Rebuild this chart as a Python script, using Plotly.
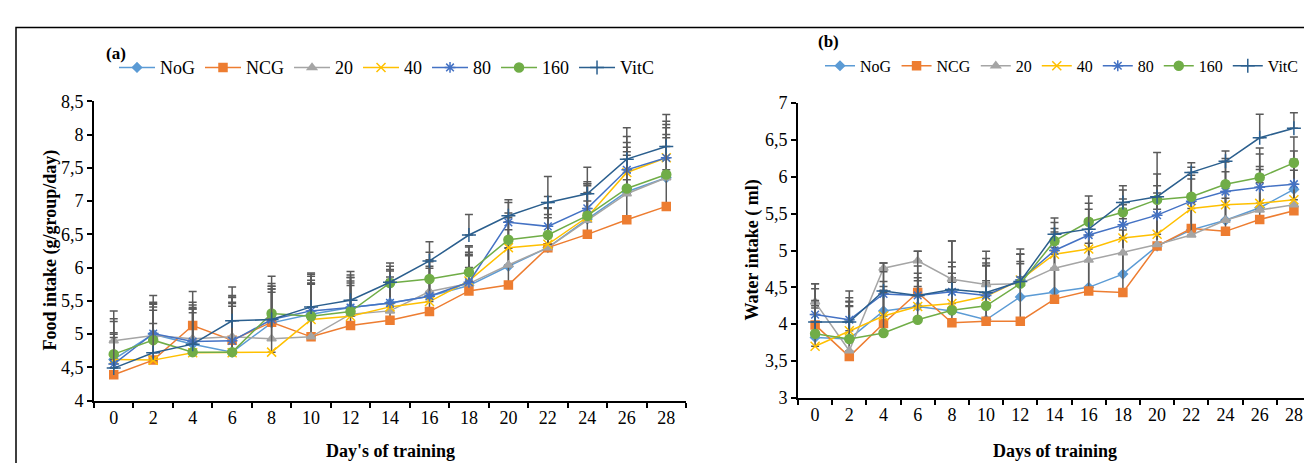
import plotly.graph_objects as go

days = ["0", "2", "4", "6", "8", "10", "12", "14", "16", "18", "20", "22", "24", "26", "28"]
series_names = ["NoG", "NCG", "20", "40", "80", "160", "VitC"]

# Panel (a): Food intake (g/group/day)
food_NoG = [4.62, 5.00, 4.85, 4.73, 5.17, 5.30, 5.40, 5.47, 5.57, 5.73, 6.02, 6.30, 6.73, 7.14, 7.35]
food_NCG = [4.39, 4.61, 5.13, 4.91, 5.18, 4.96, 5.13, 5.21, 5.34, 5.65, 5.74, 6.30, 6.50, 6.72, 6.92]
food_20 = [4.90, 4.98, 4.93, 4.96, 4.93, 4.96, 5.30, 5.35, 5.64, 5.76, 6.04, 6.30, 6.71, 7.11, 7.35]
food_40 = [4.62, 4.61, 4.72, 4.72, 4.73, 5.22, 5.27, 5.41, 5.49, 5.80, 6.30, 6.35, 6.76, 7.43, 7.65]
food_80 = [4.55, 5.01, 4.89, 4.90, 5.22, 5.35, 5.40, 5.47, 5.57, 5.78, 6.68, 6.62, 6.89, 7.47, 7.65]
food_160 = [4.70, 4.91, 4.73, 4.73, 5.31, 5.27, 5.34, 5.77, 5.83, 5.93, 6.42, 6.49, 6.78, 7.19, 7.40]
food_VitC = [4.49, 4.72, 4.85, 5.20, 5.22, 5.41, 5.51, 5.78, 6.10, 6.49, 6.78, 6.98, 7.11, 7.63, 7.82]

food_err_NoG = [0.57, 0.45, 0.55, 0.75, 0.55, 0.45, 0.40, 0.35, 0.45, 0.45, 0.55, 0.50, 0.40, 0.55, 0.60]
food_err_NCG = [0.50, 0.55, 0.35, 0.55, 0.45, 0.80, 0.60, 0.55, 0.50, 0.35, 0.55, 0.45, 0.50, 0.60, 0.55]
food_err_20 = [0.33, 0.50, 0.45, 0.60, 0.75, 0.85, 0.55, 0.60, 0.45, 0.55, 0.65, 0.60, 0.55, 0.70, 0.75]
food_err_40 = [0.40, 0.75, 0.60, 0.70, 0.95, 0.55, 0.50, 0.45, 0.50, 0.40, 0.45, 0.55, 0.50, 0.45, 0.50]
food_err_80 = [0.45, 0.40, 0.55, 0.65, 0.50, 0.55, 0.45, 0.50, 0.55, 0.45, 0.30, 0.45, 0.40, 0.50, 0.55]
food_err_160 = [0.25, 0.55, 0.65, 0.85, 0.45, 0.60, 0.55, 0.25, 0.40, 0.40, 0.40, 0.40, 0.45, 0.55, 0.60]
food_err_VitC = [0.86, 0.86, 0.79, 0.51, 0.65, 0.51, 0.43, 0.29, 0.29, 0.31, 0.24, 0.39, 0.40, 0.47, 0.48]

# Panel (b): Water intake (ml)
water_NoG = [3.82, 3.80, 4.18, 4.24, 4.18, 4.06, 4.37, 4.44, 4.50, 4.68, 5.06, 5.28, 5.41, 5.58, 5.83]
water_NCG = [3.99, 3.56, 4.01, 4.43, 4.02, 4.04, 4.04, 4.34, 4.45, 4.43, 5.06, 5.30, 5.26, 5.42, 5.54]
water_20 = [4.30, 3.64, 4.76, 4.86, 4.61, 4.54, 4.55, 4.76, 4.87, 4.97, 5.08, 5.21, 5.41, 5.55, 5.62]
water_40 = [3.70, 3.91, 4.11, 4.24, 4.28, 4.38, 4.60, 4.95, 5.02, 5.17, 5.22, 5.57, 5.62, 5.64, 5.69]
water_80 = [4.13, 4.06, 4.41, 4.39, 4.44, 4.39, 4.60, 5.00, 5.21, 5.35, 5.48, 5.67, 5.80, 5.86, 5.90]
water_160 = [3.87, 3.80, 3.88, 4.06, 4.19, 4.25, 4.55, 5.13, 5.39, 5.52, 5.69, 5.73, 5.90, 5.99, 6.19]
water_VitC = [4.03, 4.03, 4.45, 4.39, 4.47, 4.43, 4.58, 5.22, 5.29, 5.65, 5.73, 6.06, 6.21, 6.53, 6.66]

water_err_NoG = [0.40, 0.45, 0.40, 0.35, 0.45, 0.50, 0.45, 0.60, 0.70, 0.75, 0.60, 0.45, 0.50, 0.45, 0.40]
water_err_NCG = [0.30, 0.50, 0.45, 0.20, 0.55, 0.55, 0.60, 0.75, 0.65, 0.85, 0.50, 0.35, 0.45, 0.50, 0.55]
water_err_20 = [0.25, 0.60, 0.07, 0.13, 0.52, 0.25, 0.30, 0.40, 0.55, 0.60, 0.70, 0.55, 0.50, 0.55, 0.60]
water_err_40 = [0.55, 0.40, 0.40, 0.45, 0.50, 0.45, 0.35, 0.30, 0.40, 0.45, 0.45, 0.40, 0.45, 0.50, 0.55]
water_err_80 = [0.35, 0.30, 0.30, 0.40, 0.40, 0.50, 0.35, 0.30, 0.35, 0.35, 0.40, 0.35, 0.40, 0.45, 0.45]
water_err_160 = [0.45, 0.50, 0.55, 0.45, 0.50, 0.55, 0.40, 0.25, 0.25, 0.30, 0.35, 0.40, 0.35, 0.40, 0.35]
water_err_VitC = [0.52, 0.42, 0.38, 0.60, 0.66, 0.56, 0.44, 0.22, 0.45, 0.23, 0.60, 0.13, 0.14, 0.32, 0.21]

food_ticks = [4, 4.5, 5, 5.5, 6, 6.5, 7, 7.5, 8, 8.5]
food_ticklabels = ["4", "4,5", "5", "5,5", "6", "6,5", "7", "7,5", "8", "8,5"]
water_ticks = [3, 3.5, 4, 4.5, 5, 5.5, 6, 6.5, 7]
water_ticklabels = ["3", "3,5", "4", "4,5", "5", "5,5", "6", "6,5", "7"]

colors = ["#5B9BD5", "#ED7D31", "#A5A5A5", "#FFC000", "#4472C4", "#70AD47", "#2B5F8E"]
symbols = ["diamond", "square", "triangle-up", "x-thin-open", "asterisk-open", "circle", "cross-thin-open"]
sizes = [7, 8, 8, 9, 9, 9, 10]

food_vals = [food_NoG, food_NCG, food_20, food_40, food_80, food_160, food_VitC]
food_errs = [food_err_NoG, food_err_NCG, food_err_20, food_err_40, food_err_80, food_err_160, food_err_VitC]
water_vals = [water_NoG, water_NCG, water_20, water_40, water_80, water_160, water_VitC]
water_errs = [water_err_NoG, water_err_NCG, water_err_20, water_err_40, water_err_80, water_err_160, water_err_VitC]

W, H = 1312, 463
FONT = "Liberation Serif"

fig = go.Figure()

def add_panel(vals, errs, xaxis, yaxis, legend):
    for name, v, e, c, s, sz in zip(series_names, vals, errs, colors, symbols, sizes):
        fig.add_trace(go.Scatter(
            x=days, y=v, name=name, mode="lines+markers",
            xaxis=xaxis, yaxis=yaxis, legend=legend,
            line=dict(color=c, width=1.5),
            marker=dict(symbol=s, size=sz, color=c, line=dict(color=c, width=1.5)),
            error_y=dict(type="data", array=e, symmetric=False, arrayminus=[0] * len(e),
                         color="#5A5A5A", thickness=1.5, width=4),
        ))

add_panel(food_vals, food_errs, "x", "y", "legend")
add_panel(water_vals, water_errs, "x2", "y2", "legend2")

def px_x(p):
    return p / W

def px_y(p):
    return 1 - p / H

axis_common = dict(showline=True, linecolor="black", linewidth=2, ticks="outside",
                   tickcolor="black", tickwidth=2, ticklen=5, showgrid=False, zeroline=False,
                   tickfont=dict(family=FONT, size=18, color="black"))

fig.update_layout(
    width=W, height=H,
    margin=dict(l=0, r=0, t=0, b=0),
    paper_bgcolor="white", plot_bgcolor="white",
    font=dict(family=FONT, size=18, color="black"),
    showlegend=True,
    xaxis=dict(domain=[px_x(86), px_x(678)], type="category", tickson="boundaries",
               range=[-0.5, 14.5], anchor="y", **axis_common),
    yaxis=dict(domain=[px_y(400), px_y(87)], range=[4, 8.5], tickvals=food_ticks,
               ticktext=food_ticklabels, anchor="x", **axis_common),
    xaxis2=dict(domain=[px_x(790), px_x(1303)], type="category", tickson="boundaries",
                range=[-0.5, 14.5], anchor="y2", **axis_common),
    yaxis2=dict(domain=[px_y(397), px_y(89)], range=[3, 7], tickvals=water_ticks,
                ticktext=water_ticklabels, anchor="x2", **axis_common),
    legend=dict(orientation="h", x=px_x(106), y=px_y(52), xanchor="left", yanchor="middle",
                font=dict(family=FONT, size=18), itemwidth=36, bgcolor="rgba(0,0,0,0)",
                tracegroupgap=0),
    legend2=dict(orientation="h", x=px_x(812), y=px_y(50), xanchor="left", yanchor="middle",
                 font=dict(family=FONT, size=16), itemwidth=30, bgcolor="rgba(0,0,0,0)",
                 tracegroupgap=0),
    shapes=[dict(type="rect", xref="paper", yref="paper", x0=px_x(8), x1=1.02,
                 y0=-0.1, y1=px_y(10), line=dict(color="black", width=1.5))],
    annotations=[
        dict(text="<b>(a)</b>", x=px_x(96), y=px_y(25), xref="paper", yref="paper",
             xanchor="left", yanchor="top",
             showarrow=False, font=dict(family=FONT, size=17)),
        dict(text="<b>(b)</b>", x=px_x(808), y=px_y(13), xref="paper", yref="paper",
             xanchor="left", yanchor="top",
             showarrow=False, font=dict(family=FONT, size=17)),
        dict(text="<b>Food intake (g/group/day)</b>", x=px_x(43), y=px_y(243), xref="paper",
             yref="paper", xanchor="center", yanchor="middle",
             showarrow=False, textangle=-90, font=dict(family=FONT, size=18)),
        dict(text="<b>Water intake ( ml)</b>", x=px_x(745), y=px_y(243), xref="paper",
             yref="paper", xanchor="center", yanchor="middle",
             showarrow=False, textangle=-90, font=dict(family=FONT, size=18)),
        dict(text="<b>Day's of training</b>", x=px_x(382), y=px_y(453), xref="paper",
             yref="paper", xanchor="center", yanchor="middle",
             showarrow=False, font=dict(family=FONT, size=18)),
        dict(text="<b>Days of training</b>", x=px_x(1047), y=px_y(453), xref="paper",
             yref="paper", xanchor="center", yanchor="middle",
             showarrow=False, font=dict(family=FONT, size=18)),
    ],
)

fig.write_html("out.html")
